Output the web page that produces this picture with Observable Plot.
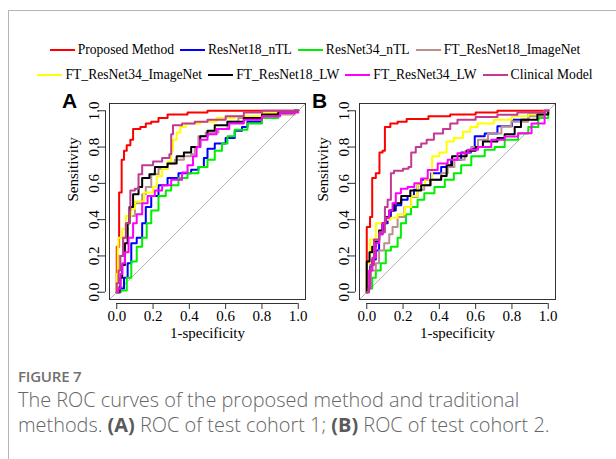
<!DOCTYPE html>
<html><head><meta charset="utf-8">
<script src="https://cdn.jsdelivr.net/npm/d3@7"></script>
<script src="https://cdn.jsdelivr.net/npm/@observablehq/plot@0.6"></script>
<style>
body{margin:0;background:#fff;}
#page{position:relative;width:616px;height:459px;overflow:hidden;background:#fff;}
.card{position:absolute;left:8px;top:10px;width:640px;height:480px;border-left:1px solid #b5b5b5;border-top:1px solid #b5b5b5;}
.legrow{position:absolute;left:0;width:630px;display:flex;justify-content:center;align-items:center;font-family:"Liberation Serif","Times New Roman",serif;font-size:13.6px;color:#000;white-space:nowrap;line-height:16px;}
.item{display:flex;align-items:center;margin:0 3px;}
.sw{display:inline-block;width:25px;height:2px;margin-right:3px;}
.panel{position:absolute;}
.plabel{position:absolute;font-family:"Liberation Sans",Arial,sans-serif;font-weight:bold;font-size:21px;color:#000;line-height:1;}
.fig{position:absolute;left:18px;top:366px;font-family:"Open Sans",sans-serif;font-weight:600;font-size:15px;color:#707070;letter-spacing:-0.2px;}
.cap{position:absolute;left:18px;top:387px;font-family:"Open Sans",sans-serif;font-weight:300;font-size:19.9px;line-height:25px;color:#666;}
.cap b{font-weight:700;color:#5a5a5a;}
</style></head>
<body><div id="page">
<div class="card"></div>
<div class="legrow" id="row1" style="top:42px"></div>
<div class="legrow" id="row2" style="top:67px"></div>
<div class="plabel" style="left:62px;top:90px">A</div>
<div class="plabel" style="left:312px;top:90px">B</div>
<div class="panel" id="pa" style="left:40px;top:90px"></div>
<div class="panel" id="pb" style="left:290px;top:90px"></div>
<div class="fig">FIGURE 7</div>
<div class="cap">The ROC curves of the proposed method and traditional<br>methods. <b>(A)</b> ROC of test cohort 1; <b>(B)</b> ROC of test cohort 2.</div>
</div>
<script>
const models = ["Proposed Method","ResNet18_nTL","ResNet34_nTL","FT_ResNet18_ImageNet","FT_ResNet34_ImageNet","FT_ResNet18_LW","FT_ResNet34_LW","Clinical Model"];
const colors = ["#ff0000","#0000ff","#00ee00","#bc8f8f","#ffff00","#000000","#ff00ff","#c23a92"];
const ticks = [0, 0.2, 0.4, 0.6, 0.8, 1.0];

// Panel A: [1-specificity, sensitivity] corners of each ROC staircase
const proposedA = [[0,0],[0,0.25],[0.013,0.55],[0.027,0.73],[0.04,0.78],[0.055,0.81],[0.075,0.84],[0.09,0.9],[0.13,0.91],[0.16,0.93],[0.19,0.94],[0.23,0.96],[0.28,0.98],[0.39,0.99],[0.5,1],[1,1]];
const resnet18nTLA = [[0,0],[0.02,0.02],[0.04,0.08],[0.06,0.16],[0.08,0.27],[0.11,0.3],[0.14,0.38],[0.16,0.47],[0.19,0.53],[0.23,0.59],[0.28,0.63],[0.34,0.655],[0.41,0.675],[0.45,0.69],[0.48,0.74],[0.5,0.79],[0.54,0.82],[0.6,0.85],[0.65,0.89],[0.69,0.91],[0.72,0.94],[0.8,0.97],[0.89,0.985],[0.98,1],[1,1]];
const resnet34nTLA = [[0,0],[0.02,0.01],[0.055,0.08],[0.08,0.17],[0.11,0.25],[0.14,0.3],[0.165,0.38],[0.19,0.45],[0.23,0.53],[0.27,0.56],[0.3,0.59],[0.34,0.63],[0.39,0.655],[0.45,0.69],[0.5,0.73],[0.54,0.78],[0.58,0.82],[0.61,0.86],[0.65,0.895],[0.72,0.93],[0.8,0.96],[0.89,0.985],[0.98,1],[1,1]];
const ftR18ImgA = [[0,0],[0,0.1],[0.01,0.2],[0.035,0.3],[0.055,0.38],[0.07,0.42],[0.1,0.49],[0.14,0.54],[0.16,0.58],[0.19,0.65],[0.23,0.68],[0.28,0.71],[0.32,0.73],[0.37,0.75],[0.41,0.76],[0.43,0.8],[0.45,0.86],[0.49,0.88],[0.56,0.9],[0.61,0.94],[0.67,0.96],[0.8,0.97],[0.89,0.98],[0.98,1],[1,1]];
const ftR34ImgA = [[0,0],[0,0.1],[0.005,0.25],[0.01,0.3],[0.03,0.35],[0.05,0.42],[0.08,0.46],[0.1,0.5],[0.15,0.55],[0.2,0.58],[0.22,0.64],[0.25,0.68],[0.28,0.72],[0.3,0.78],[0.31,0.84],[0.33,0.88],[0.35,0.91],[0.38,0.93],[0.46,0.94],[0.55,0.96],[0.65,0.97],[0.8,0.99],[1,1]];
const ftR18LWA = [[0,0],[0.015,0.03],[0.02,0.08],[0.03,0.15],[0.045,0.27],[0.06,0.38],[0.07,0.47],[0.09,0.54],[0.12,0.58],[0.14,0.63],[0.18,0.65],[0.21,0.69],[0.28,0.71],[0.33,0.75],[0.37,0.77],[0.41,0.8],[0.46,0.86],[0.5,0.89],[0.54,0.92],[0.61,0.94],[0.7,0.96],[0.8,0.98],[0.89,0.99],[0.98,1],[1,1]];
const ftR34LWA = [[0,0],[0.01,0.02],[0.02,0.1],[0.03,0.16],[0.045,0.22],[0.065,0.3],[0.09,0.38],[0.11,0.43],[0.14,0.49],[0.17,0.53],[0.21,0.56],[0.25,0.59],[0.3,0.62],[0.36,0.66],[0.39,0.7],[0.42,0.75],[0.44,0.8],[0.46,0.84],[0.5,0.87],[0.55,0.9],[0.62,0.93],[0.7,0.95],[0.8,0.97],[0.9,0.99],[1,1]];
const clinicalA = [[0,0],[0,0.05],[0.01,0.12],[0.02,0.2],[0.035,0.3],[0.05,0.38],[0.07,0.45],[0.075,0.56],[0.1,0.57],[0.12,0.65],[0.14,0.7],[0.2,0.72],[0.25,0.74],[0.29,0.76],[0.3,0.87],[0.31,0.92],[0.36,0.93],[0.43,0.94],[0.5,0.95],[0.6,0.97],[0.7,0.99],[0.8,1],[1,1]];

// Panel B
const proposedB = [[0,0],[0,0.36],[0.018,0.415],[0.03,0.63],[0.05,0.655],[0.07,0.77],[0.087,0.78],[0.1,0.91],[0.13,0.93],[0.17,0.94],[0.22,0.955],[0.34,0.97],[0.46,0.98],[0.6,0.99],[0.72,1],[1,1]];
const resnet18nTLB = [[0,0],[0.005,0.03],[0.018,0.14],[0.03,0.18],[0.05,0.23],[0.068,0.32],[0.087,0.38],[0.115,0.415],[0.133,0.45],[0.16,0.48],[0.19,0.51],[0.225,0.53],[0.26,0.565],[0.28,0.59],[0.3,0.62],[0.355,0.655],[0.41,0.69],[0.465,0.73],[0.52,0.77],[0.575,0.79],[0.595,0.86],[0.65,0.875],[0.72,0.915],[0.8,0.95],[0.89,0.98],[0.98,1],[1,1]];
const resnet34nTLB = [[0,0],[0.01,0.02],[0.03,0.08],[0.05,0.12],[0.077,0.16],[0.105,0.23],[0.133,0.25],[0.17,0.3],[0.188,0.38],[0.216,0.43],[0.244,0.47],[0.28,0.51],[0.317,0.545],[0.373,0.58],[0.43,0.62],[0.48,0.655],[0.52,0.7],[0.576,0.75],[0.65,0.785],[0.705,0.8],[0.76,0.84],[0.834,0.875],[0.89,0.91],[0.945,0.96],[1,1]];
const ftR18ImgB = [[0,0],[0.005,0.03],[0.022,0.12],[0.05,0.16],[0.068,0.23],[0.096,0.27],[0.124,0.32],[0.142,0.36],[0.17,0.415],[0.207,0.47],[0.244,0.525],[0.28,0.565],[0.317,0.59],[0.354,0.62],[0.41,0.655],[0.446,0.69],[0.483,0.73],[0.54,0.775],[0.576,0.8],[0.613,0.84],[0.668,0.875],[0.742,0.913],[0.797,0.94],[0.889,0.97],[0.98,1],[1,1]];
const ftR34ImgB = [[0,0],[0,0.16],[0.018,0.29],[0.05,0.38],[0.1,0.4],[0.13,0.41],[0.17,0.43],[0.21,0.47],[0.245,0.53],[0.28,0.59],[0.32,0.62],[0.36,0.75],[0.4,0.77],[0.44,0.83],[0.48,0.85],[0.53,0.885],[0.57,0.91],[0.61,0.93],[0.7,0.95],[0.8,0.97],[0.89,0.98],[0.98,1],[1,1]];
const ftR18LWB = [[0,0],[0,0.17],[0.015,0.22],[0.03,0.25],[0.05,0.28],[0.068,0.34],[0.087,0.38],[0.105,0.415],[0.124,0.45],[0.15,0.49],[0.19,0.53],[0.24,0.56],[0.3,0.59],[0.35,0.62],[0.41,0.64],[0.44,0.7],[0.47,0.75],[0.55,0.78],[0.6,0.8],[0.64,0.83],[0.72,0.85],[0.76,0.87],[0.815,0.91],[0.85,0.95],[0.94,0.98],[1,1]];
const ftR34LWB = [[0,0],[0.004,0],[0.013,0.12],[0.031,0.19],[0.05,0.27],[0.068,0.32],[0.087,0.38],[0.105,0.41],[0.124,0.45],[0.142,0.49],[0.16,0.545],[0.188,0.57],[0.225,0.58],[0.262,0.6],[0.3,0.627],[0.336,0.673],[0.391,0.71],[0.446,0.73],[0.5,0.766],[0.557,0.785],[0.613,0.8],[0.686,0.84],[0.76,0.858],[0.834,0.876],[0.908,0.93],[0.98,1],[1,1]];
const clinicalB = [[0,0],[0.01,0.02],[0.02,0.15],[0.04,0.29],[0.07,0.33],[0.1,0.47],[0.115,0.51],[0.133,0.655],[0.15,0.67],[0.2,0.68],[0.23,0.69],[0.245,0.77],[0.27,0.8],[0.3,0.82],[0.33,0.84],[0.37,0.875],[0.42,0.9],[0.46,0.93],[0.5,0.95],[0.6,0.965],[0.72,0.978],[0.83,0.99],[0.98,1],[1,1]];

const seriesA = [proposedA, resnet18nTLA, resnet34nTLA, ftR18ImgA, ftR34ImgA, ftR18LWA, ftR34LWA, clinicalA];
const seriesB = [proposedB, resnet18nTLB, resnet34nTLB, ftR18ImgB, ftR34ImgB, ftR18LWB, ftR34LWB, clinicalB];

// legend
function buildLegend(el, idx) {
  for (const i of idx) {
    const it = document.createElement("div"); it.className = "item";
    const sw = document.createElement("span"); sw.className = "sw"; sw.style.background = colors[i];
    it.appendChild(sw); it.appendChild(document.createTextNode(models[i]));
    el.appendChild(it);
  }
}
buildLegend(document.getElementById("row1"), [0,1,2,3]);
buildLegend(document.getElementById("row2"), [4,5,6,7]);

const dom = [-0.04, 1.04];
function panel(series) {
  const rows = [];
  series.forEach((pts, i) => pts.forEach(([x, y]) => rows.push({model: models[i], x, y})));
  const diag = dom.map(v => ({x: v, y: v}));
  return Plot.plot({
    width: 275, height: 259,
    marginLeft: 69, marginRight: 10, marginTop: 13, marginBottom: 50,
    x: {domain: dom}, y: {domain: dom},
    color: {domain: models, range: colors},
    style: {fontFamily: "'Liberation Serif','Times New Roman',serif", fontSize: "15px", color: "#000", background: "transparent", overflow: "visible"},
    marks: [
      Plot.line(diag, {x: "x", y: "y", stroke: "#b4b4b4", strokeWidth: 1}),
      Plot.line(rows, {x: "x", y: "y", z: "model", stroke: "model", curve: "step-after", strokeWidth: 2}),
      Plot.frame({stroke: "#333", strokeWidth: 1}),
      Plot.ruleY([dom[0]], {x1: 0, x2: 1, dy: 4, stroke: "#333"}),
      Plot.ruleX([dom[0]], {y1: 0, y2: 1, dx: -4, stroke: "#333"}),
      Plot.axisX(ticks, {tickSize: 6, dy: 4, tickPadding: 1, tickFormat: d => d.toFixed(1), label: null, stroke: "#333"}),
      Plot.axisY(ticks, {tickSize: 6, dx: -4, tickPadding: 1, tickRotate: -90, tickFormat: d => d.toFixed(1), label: null, stroke: "#333"}),
      Plot.text(["1-specificity"], {frameAnchor: "bottom", dy: 38, fontSize: 15}),
      Plot.text(["Sensitivity"], {frameAnchor: "left", dx: -36, rotate: -90, fontSize: 15})
    ]
  });
}
document.getElementById("pa").appendChild(panel(seriesA));
document.getElementById("pb").appendChild(panel(seriesB));
</script>
</body></html>
